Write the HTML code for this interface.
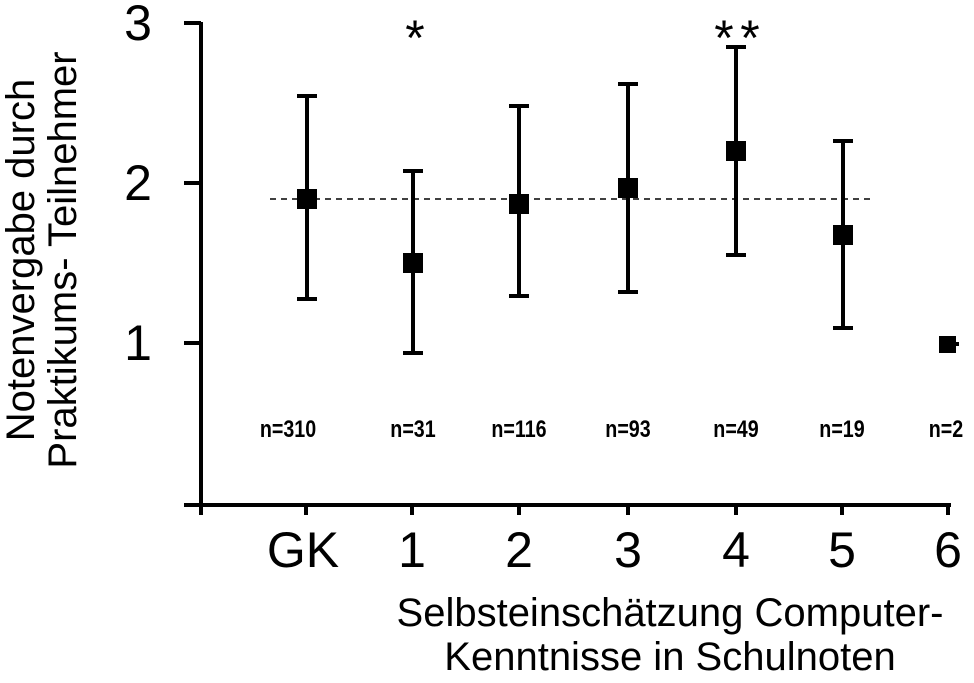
<!DOCTYPE html>
<html><head><meta charset="utf-8"><style>html,body{margin:0;padding:0;background:#fff}</style></head>
<body>
<svg width="974" height="678" viewBox="0 0 974 678" xmlns="http://www.w3.org/2000/svg" font-family="Liberation Sans, sans-serif">
<g stroke="#000" stroke-width="4" fill="none">
<line x1="201" y1="22" x2="201" y2="507"/>
<line x1="184" y1="23" x2="201" y2="23"/>
<line x1="184" y1="183" x2="201" y2="183"/>
<line x1="184" y1="343" x2="201" y2="343"/>
<line x1="184" y1="505" x2="951" y2="505"/>
<line x1="201" y1="505" x2="201" y2="515"/>
<line x1="306" y1="505" x2="306" y2="515"/>
<line x1="412" y1="505" x2="412" y2="515"/>
<line x1="519" y1="505" x2="519" y2="515"/>
<line x1="628" y1="505" x2="628" y2="515"/>
<line x1="736" y1="505" x2="736" y2="515"/>
<line x1="842" y1="505" x2="842" y2="515"/>
<line x1="948" y1="505" x2="948" y2="515"/>
</g>
<line x1="270" y1="199" x2="872" y2="199" stroke="#000" stroke-width="1.6" stroke-dasharray="6,5"/>
<g stroke="#000" stroke-width="4">
<line x1="307" y1="96" x2="307" y2="299"/><line x1="297" y1="96" x2="317" y2="96"/><line x1="297" y1="299" x2="317" y2="299"/>
<line x1="413" y1="171" x2="413" y2="353"/><line x1="403" y1="171" x2="423" y2="171"/><line x1="403" y1="353" x2="423" y2="353"/>
<line x1="519" y1="106" x2="519" y2="296"/><line x1="509" y1="106" x2="529" y2="106"/><line x1="509" y1="296" x2="529" y2="296"/>
<line x1="628" y1="84" x2="628" y2="292"/><line x1="618" y1="84" x2="638" y2="84"/><line x1="618" y1="292" x2="638" y2="292"/>
<line x1="736" y1="47" x2="736" y2="255"/><line x1="726" y1="47" x2="746" y2="47"/><line x1="726" y1="255" x2="746" y2="255"/>
<line x1="843" y1="141" x2="843" y2="328"/><line x1="833" y1="141" x2="853" y2="141"/><line x1="833" y1="328" x2="853" y2="328"/>
</g>
<g fill="#000">
<rect x="297" y="189" width="20" height="20"/>
<rect x="403" y="253" width="20" height="20"/>
<rect x="509" y="194" width="20" height="20"/>
<rect x="618" y="178" width="20" height="20"/>
<rect x="726" y="141" width="20" height="20"/>
<rect x="833" y="225" width="20" height="20"/>
<rect x="939" y="336" width="17" height="17"/>
<rect x="955" y="342" width="4" height="4"/>
</g>
<g font-size="50" text-anchor="middle">
<text x="138" y="40">3</text>
<text x="138" y="200">2</text>
<text x="138" y="360">1</text>
<text x="303" y="567">GK</text>
<text x="412" y="567">1</text>
<text x="519" y="567">2</text>
<text x="628" y="567">3</text>
<text x="736" y="567">4</text>
<text x="842" y="567">5</text>
<text x="948" y="567">6</text>
<text x="415" y="55" font-size="50">*</text>
<text x="724" y="55" font-size="50">*</text>
<text x="750" y="55" font-size="50">*</text>
</g>
<g font-size="24" font-weight="bold" text-anchor="middle">
<text transform="translate(288,437) scale(0.82,1)">n=310</text>
<text transform="translate(413,437) scale(0.82,1)">n=31</text>
<text transform="translate(519,437) scale(0.82,1)">n=116</text>
<text transform="translate(628,437) scale(0.82,1)">n=93</text>
<text transform="translate(736,437) scale(0.82,1)">n=49</text>
<text transform="translate(842,437) scale(0.82,1)">n=19</text>
<text transform="translate(946,437) scale(0.82,1)">n=2</text>
</g>
<g font-size="40" text-anchor="middle">
<text transform="translate(34,260) rotate(-90)">Notenvergabe durch</text>
<text transform="translate(76,260) rotate(-90)">Praktikums- Teilnehmer</text>
<text x="670" y="626">Selbsteinschätzung Computer-</text>
<text x="670" y="670">Kenntnisse in Schulnoten</text>
</g>
</svg>
</body></html>
